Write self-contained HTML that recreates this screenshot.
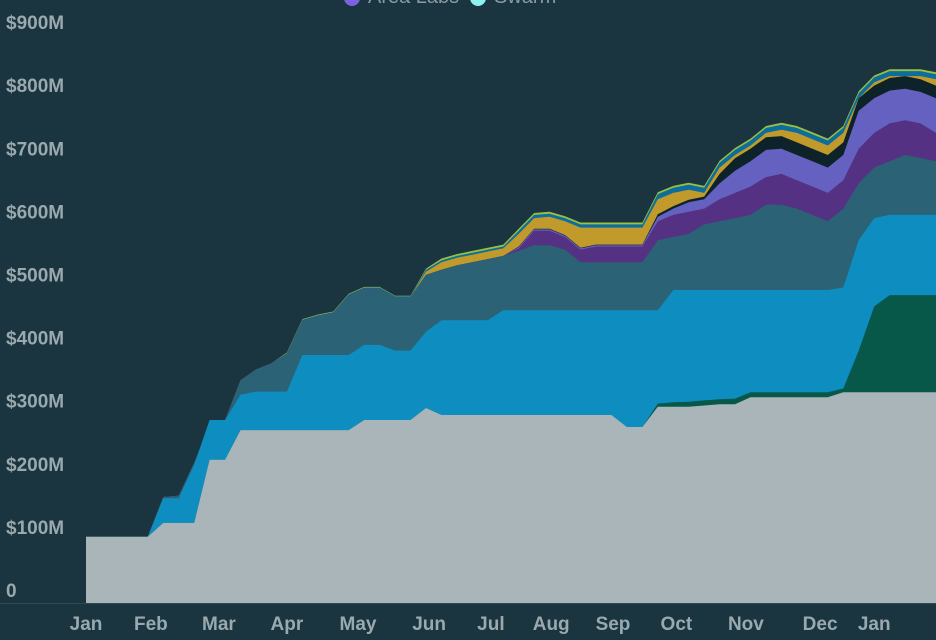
<!DOCTYPE html>
<html><head><meta charset="utf-8"><style>
html,body{margin:0;padding:0;background:#1a3540;}
svg{display:block;font-family:"Liberation Sans",sans-serif;}
</style></head><body>
<svg width="936" height="640" viewBox="0 0 936 640">
<rect width="936" height="640" fill="#1a3540"/>
<g id="legend">
<circle cx="352" cy="-2" r="8" fill="#7a62e0"/>
<text x="368" y="3" font-size="20" fill="#8a9aa0">Area Labs</text>
<circle cx="478" cy="-2" r="8" fill="#8ff0f0"/>
<text x="494" y="3" font-size="20" fill="#8a9aa0">Swarm</text>
</g>
<g id="areas"></g>
<g id="yaxis"></g>
<g id="xaxis"></g>
</svg>
<script>
const weeks = Array.from({length:56},(_,i)=>i);
const yTicks = [0,100,200,300,400,500,600,700,800,900];
const yTickLabels = ["0","$100M","$200M","$300M","$400M","$500M","$600M","$700M","$800M","$900M"];
const monthLabels = ["Jan","Feb","Mar","Apr","May","Jun","Jul","Aug","Sep","Oct","Nov","Dec","Jan"];
const monthWeek = [0,4.2,8.6,13,17.6,22.2,26.2,30.1,34.1,38.2,42.7,47.5,51];
// cumulative stack tops (in $M) per week
const topGrey = [105,105,105,105,105,127,127,127,227,227,274,274,274,274,274,274,274,274,290,290,290,290,309,298,298,298,298,298,298,298,298,298,298,298,298,279,279,311,311,311,313,315,315,326,326,326,326,326,326,334,334,334,334,334,334,334];
const topGreen = [105,105,105,105,105,127,127,127,227,227,274,274,274,274,274,274,274,274,290,290,290,290,309,298,298,298,298,298,298,298,298,298,298,298,298,279,279,316,318,319,321,323,324,334,334,334,334,334,334,340,400,470,488,488,488,488];
const topLightBlue = [105,105,105,105,105,166,166,219,290,290,330,335,335,335,393,393,393,393,409,409,400,400,430,448,448,448,448,464,464,464,464,464,464,464,464,464,464,464,496,496,496,496,496,496,496,496,496,496,496,500,575,610,615,615,615,615];
const topTeal = [105,105,105,105,105,168,170,222,282,290,353,370,380,395,448,455,460,488,499,499,485,485,520,528,535,540,545,550,558,567,567,560,540,540,540,540,540,575,580,585,600,605,610,615,631,631,625,615,605,625,665,690,700,710,705,700];
const topPurple = [105,105,105,105,105,168,170,222,282,290,353,370,380,395,448,455,460,488,499,499,485,485,520,528,535,540,545,550,562,590,590,580,560,565,565,565,565,605,615,620,625,640,650,660,675,680,670,660,650,670,720,745,760,765,760,745];
const topLavender = [105,105,105,105,105,168,170,222,282,290,353,370,380,395,448,455,460,488,499,499,485,485,520,528,535,540,545,550,564,592,592,582,562,567,567,567,567,612,625,635,640,665,685,700,718,720,710,700,690,710,780,800,812,815,810,800];
const topBlack = [105,105,105,105,105,168,170,222,282,290,353,370,380,395,448,455,460,488,499,499,485,485,520,528,535,540,545,550,565,593,593,583,563,568,568,568,568,616,629,639,644,680,705,720,738,740,730,720,710,730,800,820,832,835,830,820];
const topGold = [105,105,105,105,105,168,170,222,282,290,353,370,380,395,448,455,460,488,499,499,485,485,525,540,547,552,557,562,585,610,612,605,595,595,595,595,595,640,650,655,650,690,710,725,745,750,745,735,725,745,800,825,835,835,835,830];
const topBlue = [105,105,105,105,105,168,170,222,282,290,353,370,380,396,449,456,461,489,500,500,486,486,528,543,550,555,560,565,590,615,617,610,600,600,600,600,600,648,658,663,658,698,718,733,753,758,753,743,733,753,808,833,843,843,843,838];
const topLime = [105,105,105,105,105,168,170,222,282,290,353,370,380,397,450,457,462,490,501,501,487,487,530,546,553,558,563,568,593,618,620,613,603,603,603,603,603,651,661,666,661,701,721,736,756,761,756,746,736,756,811,836,846,846,846,841];

const layers = [
 ["grey-area",topGrey,"#a9b5b8"],["green-area",topGreen,"#08584a"],["light-blue-area",topLightBlue,"#0e8ec0"],
 ["teal-area",topTeal,"#2b6275"],["purple-area",topPurple,"#553184"],["lavender-area",topLavender,"#6461c0"],
 ["black-area",topBlack,"#0e222a"],["gold-area",topGold,"#c09a2a"],["blue-area",topBlue,"#0d6e9e"],["lime-area",topLime,"#9ac040"]
];
const NS="http://www.w3.org/2000/svg";
const x = i => 86 + i*(850/55);
const y = v => 603 - v*0.631;
const areas=document.getElementById('areas');
for(let k=layers.length-1;k>=0;k--){
  const [name,tops,color]=layers[k];
  let d="M"+x(0)+","+y(0);
  weeks.forEach(i=>{d+=" L"+x(i).toFixed(1)+","+y(tops[i]).toFixed(1);});
  d+=" L"+x(weeks.length-1)+","+y(0)+" Z";
  const p=document.createElementNS(NS,'path');
  p.setAttribute('d',d);p.setAttribute('fill',color);
  
  
  areas.appendChild(p);
}
const ya=document.getElementById('yaxis');
yTicks.forEach((v,i)=>{
  const t=document.createElementNS(NS,'text');
  t.setAttribute('x',6);t.setAttribute('y',(y(v)-6).toFixed(1));
  t.setAttribute('font-size','19');t.setAttribute('fill','#9aa9ae');t.setAttribute('font-weight','bold');
  t.textContent=yTickLabels[i];
  
  
  ya.appendChild(t);
});
const xa=document.getElementById('xaxis');
const ln=document.createElementNS(NS,'line');
ln.setAttribute('x1',0);ln.setAttribute('x2',936);ln.setAttribute('y1',603.5);ln.setAttribute('y2',603.5);
ln.setAttribute('stroke','#2f4a55');


xa.appendChild(ln);
monthLabels.forEach((m,i)=>{
  const t=document.createElementNS(NS,'text');
  t.setAttribute('x',x(monthWeek[i]).toFixed(1));t.setAttribute('y',630);
  t.setAttribute('text-anchor','middle');t.setAttribute('font-size','19');t.setAttribute('font-weight','bold');
  t.setAttribute('fill','#9aa9ae');
  t.textContent=m;
  
  
  xa.appendChild(t);
});
</script>
</body></html>
